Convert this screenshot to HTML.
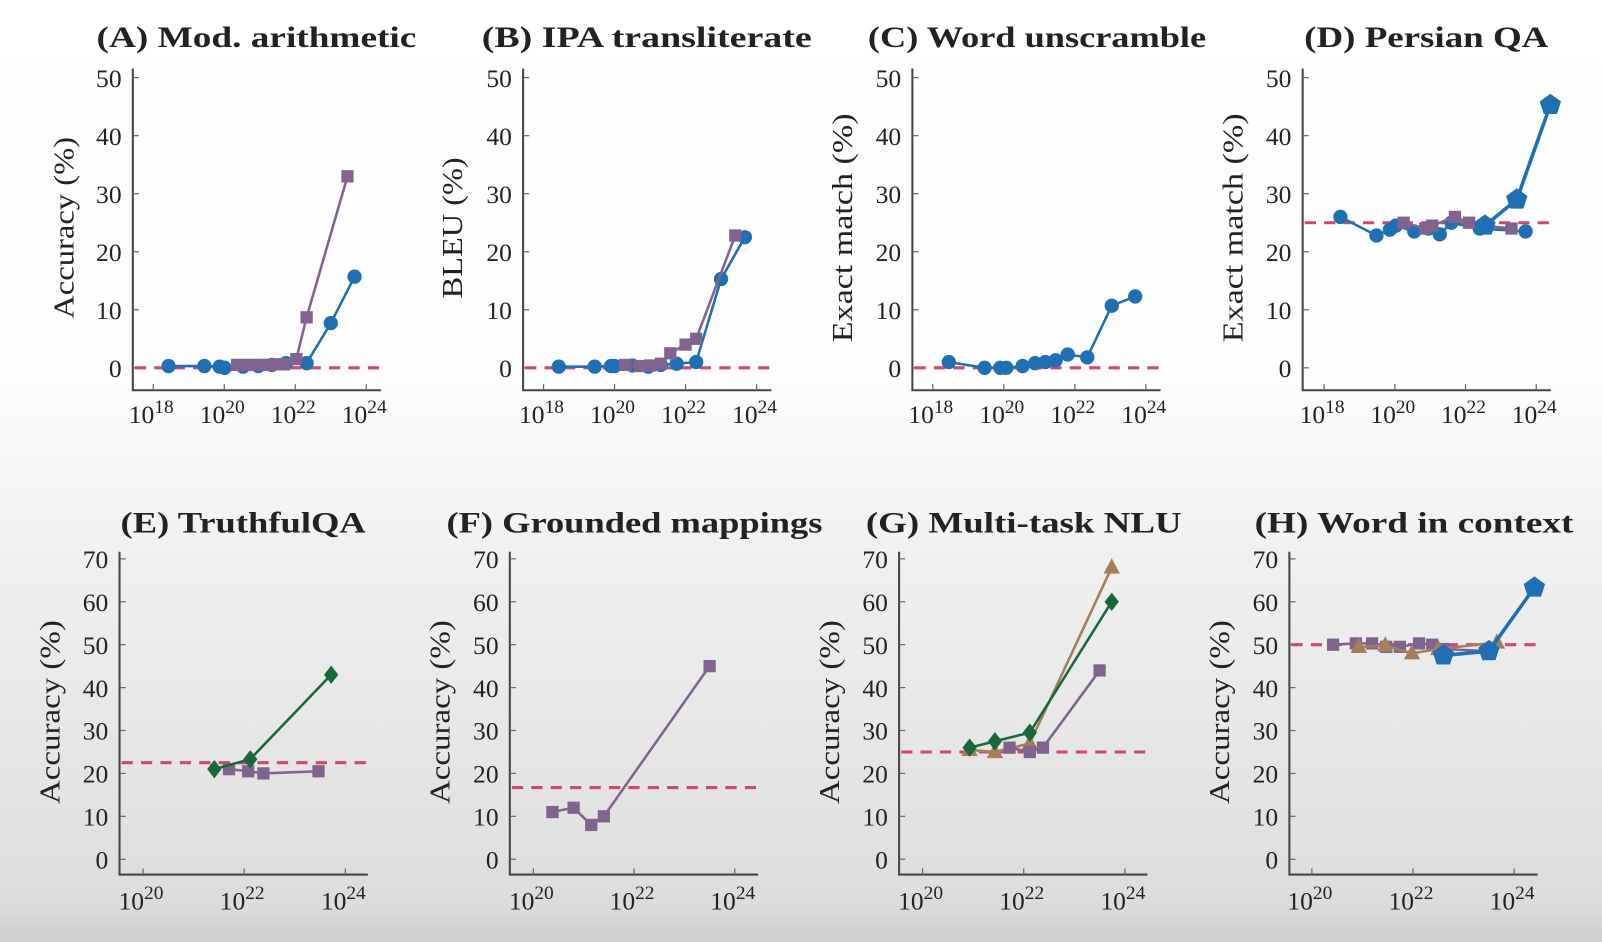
<!DOCTYPE html>
<html><head><meta charset="utf-8">
<style>
html,body{margin:0;padding:0}
body{width:1602px;height:942px;overflow:hidden;background:linear-gradient(to bottom,#ffffff 0px,#fdfdfd 380px,#f0f0f0 560px,#e2e2e2 820px,#dcdcdc 905px,#d2d2d2 930px,#d0d0d0 942px);font-family:"Liberation Serif",serif}
svg{position:absolute;left:0;top:0}
text{font-family:"Liberation Serif",serif;fill:#222}
</style></head>
<body>
<svg width="1602" height="942"><g id="fig" transform="scale(1.0217)"></g></svg>
<script>
// ---- data (exponent of training FLOPs, value %) ----
const aBlueX=[18.43,19.44,19.87,20.01,20.53,20.96,21.34,21.74,22.32,23.0,23.67];
const aBlueY=[0.3,0.3,0.2,0,0.2,0.3,0.5,0.8,0.8,7.7,15.7];
const aPurpX=[20.36,20.7,21.0,21.22,21.45,21.68,22.03,22.32,23.47];
const aPurpY=[0.5,0.5,0.5,0.5,0.6,0.6,1.5,8.7,33];
const bBlueX=[18.43,19.44,19.9,20.0,20.5,20.95,21.3,21.75,22.3,23.0,23.67];
const bBlueY=[0.2,0.2,0.3,0.3,0.4,0.2,0.5,0.7,1.0,15.3,22.5];
const bPurpX=[20.3,20.7,21.0,21.3,21.57,22.0,22.3,23.4];
const bPurpY=[0.5,0.3,0.4,0.7,2.5,4,5,22.8];
const cBlueX=[18.45,19.46,19.9,20.07,20.53,20.88,21.17,21.46,21.8,22.35,23.04,23.7];
const cBlueY=[1.0,0,0,0,0.3,0.8,1.0,1.3,2.3,1.8,10.7,12.3];
const dBlueX=[18.46,19.48,19.86,20.03,20.55,20.95,21.27,21.6,22.4,23.7];
const dBlueY=[26,22.8,23.8,24.5,23.5,24,23,25,24,23.5];
const dPurpX=[20.25,20.86,21.06,21.7,22.1,22.5,23.3];
const dPurpY=[25,24,24.5,26,25,24.5,24];
const dPentX=[22.55,23.45,24.4];
const dPentY=[24.5,29,45.3];
const eGreenX=[21.41,22.12,23.72];
const eGreenY=[21,23.3,43];
const ePurpX=[21.7,22.08,22.38,23.47];
const ePurpY=[21,20.5,20,20.5];
const fPurpX=[20.38,20.8,21.15,21.4,23.5];
const fPurpY=[11,12,8,10,45];
const gGreenX=[20.93,21.43,22.12,23.74];
const gGreenY=[26,27.5,29.5,60];
const gBrownX=[20.93,21.43,22.12,23.74];
const gBrownY=[25.5,25,27,68];
const gPurpX=[21.72,22.12,22.38,23.5];
const gPurpY=[26,25,26,44];
const hPurpX=[20.42,20.87,21.19,21.47,21.74,22.12,22.38,22.6,23.48];
const hPurpY=[50,50.3,50.3,49.5,49.5,50.3,50,49,48.5];
const hBrownX=[20.93,21.45,21.98,22.5,23.66];
const hBrownY=[49.5,49.8,48,49,50.5];
const hPentX=[22.6,23.5,24.4];
const hPentY=[47.5,48.5,63.3];
const yTicksTop=[0,10,20,30,40,50];
const yTicksBot=[0,10,20,30,40,50,60,70];
const xTicksTop=[18,20,22,24];
const xTicksBot=[20,22,24];

const C={blue:'#1f6fb2',purple:'#80648f',pink:'#d2456f',green:'#17683a',brown:'#a57e5c'};
const NS='http://www.w3.org/2000/svg';
const svg=document.getElementById('fig');
function mk(tag,attrs,parent){const e=document.createElementNS(NS,tag);for(const k in attrs)e.setAttribute(k,attrs[k]);(parent||svg).appendChild(e);return e;}

const panels=[
 {id:'a',title:'(A) Mod. arithmetic',tx:251,tl:313,ax:130,ylab:'Accuracy (%)',yll:178,ylx:72,row:0,x0:18,px0:150,dec:34.75,chance:0,
  series:[['blue','circle',aBlueX,aBlueY],['purple','square',aPurpX,aPurpY]]},
 {id:'b',title:'(B) IPA transliterate',tx:633,tl:323,ax:512,ylab:'BLEU (%)',yll:138,ylx:452,row:0,x0:18,px0:532,dec:34.75,chance:0,
  series:[['blue','circle',bBlueX,bBlueY],['purple','square',bPurpX,bPurpY]]},
 {id:'c',title:'(C) Word unscramble',tx:1015,tl:331,ax:893,ylab:'Exact match (%)',yll:224,ylx:834,row:0,x0:18,px0:913,dec:34.75,chance:0,
  series:[['blue','circle',cBlueX,cBlueY]]},
 {id:'d',title:'(D) Persian QA',tx:1396,tl:239,ax:1275,ylab:'Exact match (%)',yll:224,ylx:1216,row:0,x0:18,px0:1296,dec:34.6,chance:25,
  series:[['blue','circle',dBlueX,dBlueY],['purple','square',dPurpX,dPurpY],['blue','pent',dPentX,dPentY]]},
 {id:'e',title:'(E) TruthfulQA',tx:238,tl:240,ax:117,ylab:'Accuracy (%)',yll:180,ylx:58,row:1,x0:20,px0:140,dec:49.5,chance:22.5,
  series:[['purple','square',ePurpX,ePurpY],['green','diamond',eGreenX,eGreenY]]},
 {id:'f',title:'(F) Grounded mappings',tx:621,tl:368,ax:499,ylab:'Accuracy (%)',yll:180,ylx:440,row:1,x0:20,px0:522,dec:49.3,chance:16.7,
  series:[['purple','square',fPurpX,fPurpY]]},
 {id:'g',title:'(G) Multi-task NLU',tx:1002,tl:309,ax:880,ylab:'Accuracy (%)',yll:180,ylx:821,row:1,x0:20,px0:903,dec:49.5,chance:25,
  series:[['brown','tri',gBrownX,gBrownY],['purple','square',gPurpX,gPurpY],['green','diamond',gGreenX,gGreenY]]},
 {id:'h',title:'(H) Word in context',tx:1384,tl:312,ax:1262,ylab:'Accuracy (%)',yll:180,ylx:1203,row:1,x0:20,px0:1284,dec:49.5,chance:50,
  series:[['purple','square',hPurpX,hPurpY],['brown','tri',hBrownX,hBrownY],['blue','pent',hPentX,hPentY]]}
];
const rows=[
 {ty:46,ytop:67,ybot:382,y0:360,pp:5.68,ticks:yTicksTop,xt:xTicksTop,xlY:414,ylc:223},
 {ty:521,ytop:540,ybot:856,y0:841,pp:4.2,ticks:yTicksBot,xt:xTicksBot,xlY:890,ylc:697}
];

function marker(g,type,x,y,col){
 let e;
 if(type==='circle')e=mk('circle',{cx:x,cy:y,r:7,fill:col},g);
 else if(type==='square')e=mk('rect',{x:x-6,y:y-6,width:12,height:12,fill:col},g);
 else if(type==='diamond')e=mk('polygon',{points:`${x},${y-9} ${x+7},${y} ${x},${y+9} ${x-7},${y}`,fill:col},g);
 else if(type==='tri')e=mk('polygon',{points:`${x},${y-9} ${x+8},${y+6} ${x-8},${y+6}`,fill:col},g);
 else {let p=[];for(let i=0;i<5;i++){const a=-Math.PI/2+i*2*Math.PI/5;p.push((x+11*Math.cos(a)).toFixed(1)+','+(y+11*Math.sin(a)).toFixed(1));}
  e=mk('polygon',{points:p.join(' '),fill:col},g);}
 
 
}

panels.forEach(p=>{
 const r=rows[p.row];
 const g=mk('g',{});
 
 
 const X=e=>p.px0+(e-p.x0)*p.dec;
 const Y=v=>r.y0-v*r.pp;
 const xr=p.ax+243;
 const t=mk('text',{x:p.tx,y:r.ty,'text-anchor':'middle','font-size':29,'font-weight':'bold',textLength:p.tl,lengthAdjust:'spacingAndGlyphs'},g);t.textContent=p.title;
 
 
 const yl=mk('text',{x:0,y:0,'text-anchor':'middle','font-size':28,textLength:p.yll,lengthAdjust:'spacingAndGlyphs',transform:`translate(${p.ylx},${r.ylc}) rotate(-90)`},g);yl.textContent=p.ylab;
 
 
 const axes=mk('path',{d:`M${p.ax},${r.ytop}V${r.ybot}H${xr}`,stroke:'#444','stroke-width':2,fill:'none'},g);
 
 
 r.ticks.forEach(v=>{
  mk('line',{x1:p.ax,x2:p.ax+6,y1:Y(v),y2:Y(v),stroke:'#666','stroke-width':1.2},g);
  const tl=mk('text',{x:p.ax-11,y:Y(v)+9,'text-anchor':'end','font-size':25},g);tl.textContent=v;
  
  
 });
 r.xt.forEach(e=>{
  mk('line',{x1:X(e),x2:X(e),y1:r.ybot,y2:r.ybot-6,stroke:'#666','stroke-width':1.2},g);
  const tl=mk('text',{x:X(e)-2,y:r.xlY,'text-anchor':'middle','font-size':25},g);
  
  
  const a=mk('tspan',{},tl);a.textContent='10';
  const b=mk('tspan',{dy:-10,'font-size':19},tl);b.textContent=e;
 });
 const ch=mk('line',{x1:p.ax+2,x2:xr,y1:Y(p.chance),y2:Y(p.chance),stroke:C.pink,'stroke-width':3,'stroke-dasharray':'11,8'},g);
 
 
 p.series.forEach(s=>{
  const col=C[s[0]];const xs=s[2],ys=s[3];
  const pl=mk('polyline',{points:xs.map((e,i)=>X(e).toFixed(1)+','+Y(ys[i]).toFixed(1)).join(' '),fill:'none',stroke:col,'stroke-width':s[1]==='pent'?3.5:2.5},g);
  
  
  xs.forEach((e,i)=>marker(g,s[1],X(e),Y(ys[i]),col));
 });
});
</script>
</body></html>
